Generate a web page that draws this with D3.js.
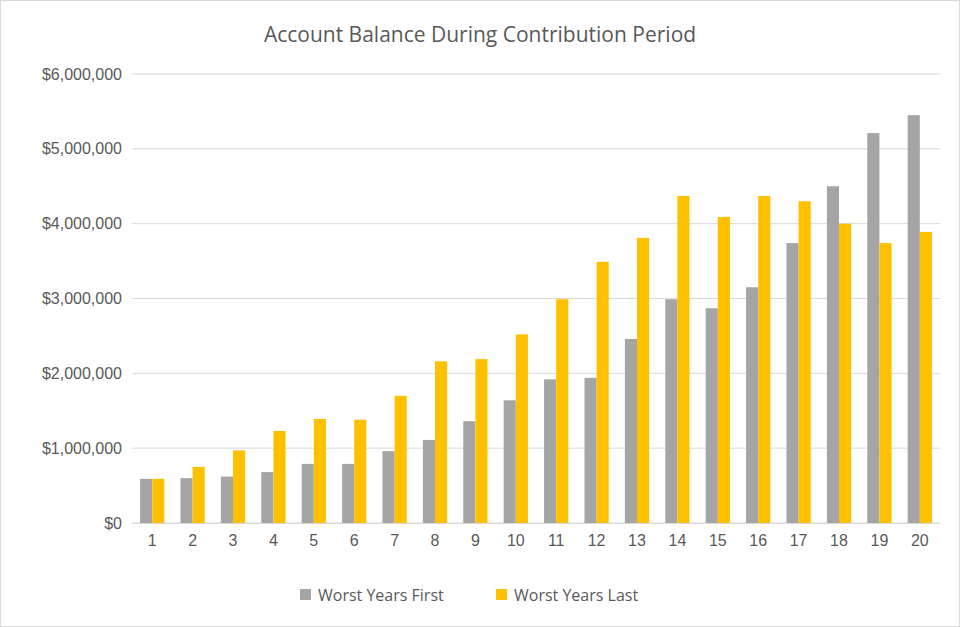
<!DOCTYPE html>
<html><head><meta charset="utf-8">
<script src="https://cdn.jsdelivr.net/npm/d3@7"></script>
<style>body{margin:0;background:#fff}svg{font-family:"Open Sans","Liberation Sans",sans-serif}</style>
</head><body>
<svg width="960" height="627"></svg>
<script>
const years = d3.range(1, 21).map(String);
const worstFirst = [590000, 600000, 620000, 680000, 790000, 790000, 960000, 1110000, 1360000, 1640000,
  1920000, 1940000, 2460000, 2990000, 2870000, 3150000, 3740000, 4500000, 5210000, 5450000];
const worstLast = [590000, 750000, 970000, 1230000, 1390000, 1380000, 1700000, 2160000, 2190000, 2520000,
  2990000, 3490000, 3810000, 4370000, 4090000, 4370000, 4300000, 4000000, 3740000, 3890000];
const series = [
  { name: "Worst Years First", values: worstFirst, color: "#A5A5A5" },
  { name: "Worst Years Last", values: worstLast, color: "#FFC000" }
];
const yTicks = [0, 1000000, 2000000, 3000000, 4000000, 5000000, 6000000];

const svg = d3.select("svg");
svg.append("rect").attr("x", 0.5).attr("y", 0.5).attr("width", 959).attr("height", 626)
  .attr("fill", "#fff").attr("stroke", "#d9d9d9");

const margin = { top: 74, right: 20, bottom: 104, left: 132 };
const width = 960 - margin.left - margin.right;
const height = 627 - margin.top - margin.bottom;
const g = svg.append("g").attr("transform", `translate(${margin.left},${margin.top})`);

const x = d3.scaleBand().domain(years).range([0, width]).paddingInner(0.4).paddingOuter(0.2);
const x1 = d3.scaleBand().domain(series.map(s => s.name)).range([0, x.bandwidth()]);
const y = d3.scaleLinear().domain([0, 6000000]).range([height, 0]);

g.append("g").selectAll("line").data(yTicks).join("line")
  .attr("x1", 0).attr("x2", width).attr("y1", d => y(d)).attr("y2", d => y(d))
  .attr("stroke", "#d9d9d9");

const yAxis = g.append("g").call(d3.axisLeft(y).tickValues(yTicks).tickSize(0).tickPadding(10)
  .tickFormat(d => "$" + d3.format(",")(d)));
yAxis.select(".domain").remove();
yAxis.selectAll("text").attr("font-size", 16).attr("fill", "#595959");

series.forEach(s => {
  g.append("g").selectAll("rect").data(s.values).join("rect")
    .attr("x", (d, i) => x(years[i]) + x1(s.name))
    .attr("y", d => y(d))
    .attr("width", x1.bandwidth())
    .attr("height", d => height - y(d))
    .attr("fill", s.color);
});

const xAxis = g.append("g").attr("transform", `translate(0,${height})`)
  .call(d3.axisBottom(x).tickSize(0).tickPadding(12));
xAxis.select(".domain").attr("stroke", "#d9d9d9");
xAxis.selectAll("text").attr("font-size", 16).attr("fill", "#595959");

svg.append("text").attr("x", 480).attr("y", 42).attr("text-anchor", "middle")
  .attr("font-size", 21).attr("fill", "#595959").text("Account Balance During Contribution Period");

const legend = svg.append("g").attr("transform", "translate(300,595)");
const lx = [0, 196];
series.forEach((s, i) => {
  const lg = legend.append("g").attr("transform", `translate(${lx[i]},0)`);
  lg.append("rect").attr("x", 0).attr("y", -6).attr("width", 11).attr("height", 11).attr("fill", s.color);
  lg.append("text").attr("x", 18).attr("y", 6).attr("font-size", 16).attr("fill", "#595959").text(s.name);
});
</script>
</body></html>
